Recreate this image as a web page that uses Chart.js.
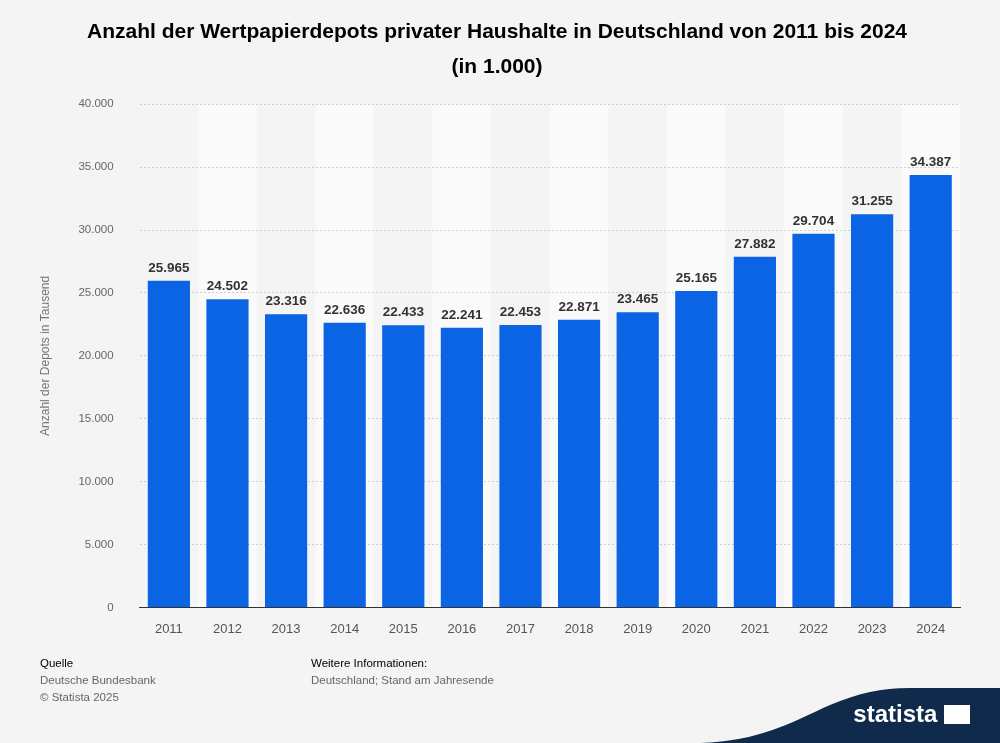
<!DOCTYPE html>
<html><head><meta charset="utf-8">
<script src="https://cdn.jsdelivr.net/npm/chart.js@4/dist/chart.umd.min.js"></script>
<style>
body{margin:0;background:#f4f4f4;font-family:Arial,"Liberation Sans",sans-serif;}
#wrap{position:relative;width:1000px;height:743px;overflow:hidden;}
.ft{position:absolute;font-size:11.5px;color:#666;line-height:17px;}
.ft b{color:#000;font-weight:normal;}
#logo{position:absolute;right:0;bottom:0;width:300px;height:60px;}
#logotxt{position:absolute;right:30px;bottom:15px;color:#fff;font:bold 24px Arial,"Liberation Sans",sans-serif;}
</style></head><body>
<div id="wrap">
<canvas id="c" width="1000" height="743"></canvas>
<div class="ft" style="left:40px;top:655px;"><b>Quelle</b><br>Deutsche Bundesbank<br>© Statista 2025</div>
<div class="ft" style="left:311px;top:655px;"><b>Weitere Informationen:</b><br>Deutschland; Stand am Jahresende</div>
<svg id="logo" viewBox="0 0 300 60"><path d="M0,60 C60,58 90,40 130,22 C160,10 180,5 210,5 L300,5 L300,60 Z" fill="#0f2a4a"/></svg>
<div id="logotxt">statista <span style="display:inline-block;width:26px;height:19px;background:#fff;vertical-align:-2px"></span></div>
</div>
<script>
const years=["2011","2012","2013","2014","2015","2016","2017","2018","2019","2020","2021","2022","2023","2024"];
const depots=[25965,24502,23316,22636,22433,22241,22453,22871,23465,25165,27882,29704,31255,34387];
const fmt=v=>v.toLocaleString('de-DE');
const bands={id:'bands',beforeDraw(ch){const {ctx,chartArea:a}=ch;const w=(a.right-a.left)/years.length;ctx.save();ctx.fillStyle='#fafafa';for(let i=1;i<years.length;i+=2){ctx.fillRect(a.left+i*w,a.top,w,a.bottom-a.top);}ctx.restore();}};
const labels={id:'labels',afterDatasetsDraw(ch){const {ctx}=ch;const m=ch.getDatasetMeta(0);ctx.save();ctx.font='bold 13.5px Arial, "Liberation Sans", sans-serif';ctx.fillStyle='#333';ctx.textAlign='center';ctx.textBaseline='bottom';m.data.forEach((b,i)=>ctx.fillText(fmt(depots[i]),b.x,b.y-6));ctx.restore();}};
new Chart(document.getElementById('c'),{type:'bar',
data:{labels:years,datasets:[{data:depots,backgroundColor:'#0b64e3',categoryPercentage:0.72,barPercentage:1}]},
options:{responsive:false,animation:false,devicePixelRatio:1,
layout:{padding:{left:34,right:40,top:0,bottom:100}},
plugins:{legend:{display:false},tooltip:{enabled:false},
title:{display:true,text:['Anzahl der Wertpapierdepots privater Haushalte in Deutschland von 2011 bis 2024','(in 1.000)'],color:'#000',font:{size:21,weight:'bold',family:'Arial, "Liberation Sans", sans-serif',lineHeight:1.65},padding:{top:15,bottom:20}}},
scales:{x:{grid:{display:false},border:{color:'#333'},ticks:{color:'#555',font:{size:13},padding:6}},
y:{min:0,max:40000,ticks:{stepSize:5000,color:'#666',font:{size:11.5},padding:26,callback:v=>fmt(v)},
grid:{color:'#cfcfcf',drawTicks:false},border:{display:false,dash:[2,2]},
title:{display:true,text:'Anzahl der Depots in Tausend',color:'#777',font:{size:12},padding:{top:4,bottom:0}}}}},
plugins:[bands,labels]});
</script></body></html>
